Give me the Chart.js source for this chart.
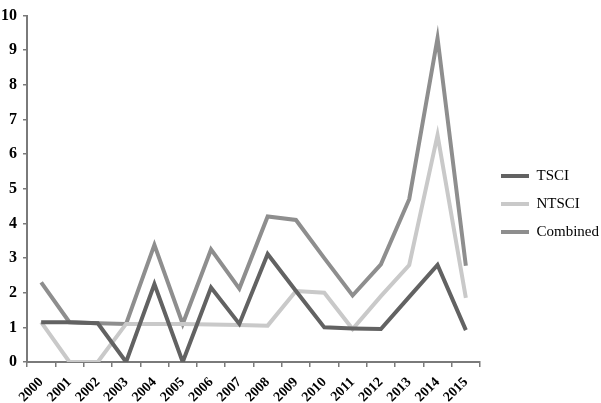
<!DOCTYPE html>
<html>
<head>
<meta charset="utf-8">
<script src="https://cdn.jsdelivr.net/npm/chart.js@4.4.1/dist/chart.umd.min.js"></script>
<style>
html,body{margin:0;padding:0;background:#fff;}
#wrap{width:601px;height:403px;position:relative;}
</style>
</head>
<body>
<div id="wrap"><canvas id="c" width="601" height="403"></canvas></div>
<script>
const years = ["2000","2001","2002","2003","2004","2005","2006","2007","2008","2009","2010","2011","2012","2013","2014","2015"];
const tsci = [1.15,1.15,1.12,0,2.25,0,2.15,1.1,3.12,2.05,1.0,0.97,0.95,1.88,2.8,0.92];
const ntsci = [1.15,0,0,1.1,1.1,1.1,1.08,1.07,1.05,2.05,2.0,0.95,1.9,2.8,6.55,1.85];
const combined = [2.3,1.15,1.12,1.1,3.38,1.1,3.25,2.12,4.2,4.1,3.0,1.92,2.82,4.7,9.35,2.78];
const yTicks = [0,1,2,3,4,5,6,7,8,9,10];

const serif = "'Liberation Serif','Times New Roman',serif";
function ds(label, data, color){
  return {label, data, borderColor: color, backgroundColor: color, borderWidth: 4,
    pointRadius: 0, tension: 0, fill: false, borderJoinStyle: 'miter'};
}
const shiftLegend = {
  id: 'shiftLegend',
  afterLayout(chart){ if (chart.legend){ chart.legend.left += 8; chart.legend.right += 8; } }
};
new Chart(document.getElementById('c'), {
  type: 'line',
  data: {
    labels: years,
    datasets: [
      ds('TSCI', tsci, '#626262'),
      ds('NTSCI', ntsci, '#c9c9c9'),
      ds('Combined', combined, '#8e8e8e')
    ]
  },
  plugins: [shiftLegend],
  options: {
    responsive: false,
    animation: false,
    layout: {padding: {top: 5, right: 0, left: 0, bottom: 0}},
    plugins: {
      tooltip: {enabled: false},
      legend: {
        position: 'right',
        maxWidth: 122,
        labels: {
          usePointStyle: true, pointStyle: 'line', pointStyleWidth: 28, boxWidth: 28, boxHeight: 8,
          padding: 13, color: '#000',
          font: {family: serif, size: 15}
        }
      }
    },
    scales: {
      x: {
        offset: true,
        grid: {offset: true, drawOnChartArea: false, drawTicks: true, tickLength: 5, color: '#7a7a7a', lineWidth: 1.5},
        border: {color: '#7a7a7a', width: 2},
        ticks: {maxRotation: 45, minRotation: 45, color: '#000', padding: 7,
          font: {family: serif, size: 14, weight: 'bold'}},
        afterFit(s){ s.height = 41; }
      },
      y: {
        min: 0, max: 10,
        afterBuildTicks(s){ s.ticks = yTicks.map(v => ({value: v})); },
        grid: {drawOnChartArea: false, drawTicks: true, tickLength: 4, color: '#7a7a7a', lineWidth: 1.5},
        border: {color: '#7a7a7a', width: 2},
        ticks: {color: '#000', padding: 6, font: {family: serif, size: 16, weight: 'bold'}},
        afterFit(s){ s.width = 27; }
      }
    }
  }
});
</script>
</body>
</html>
